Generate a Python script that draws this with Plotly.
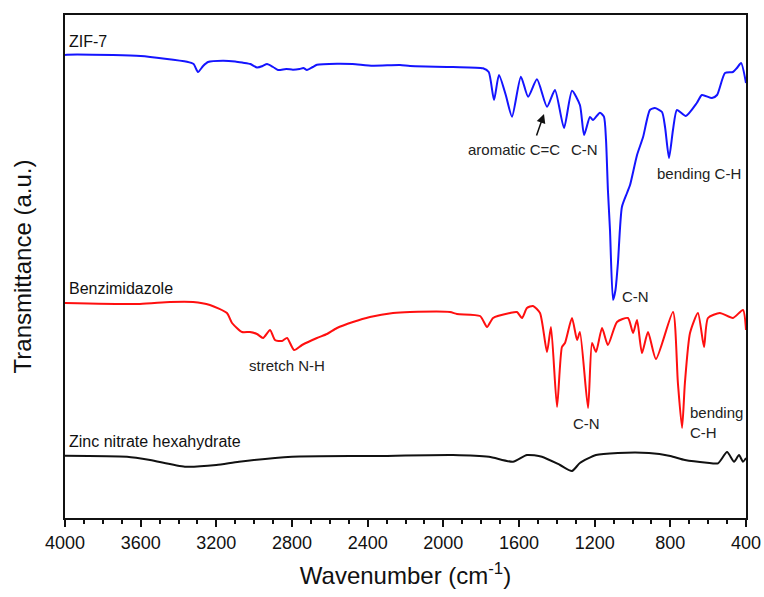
import plotly.graph_objects as go

# ZIF-7 (wavenumber cm-1, transmittance a.u., offset-stacked)
zif_wn = [4000, 3990, 3746, 3600, 3355, 3320, 3297, 3270, 3244, 3165, 3100, 3059, 3020, 2985, 2955, 2932, 2900,
          2874, 2830, 2795, 2760, 2740, 2721, 2690, 2668, 2562, 2480, 2372, 2229, 2176, 1950, 1790, 1760, 1732,
          1706, 1670, 1637, 1590, 1552, 1505, 1452, 1410, 1362, 1320, 1278, 1256, 1225, 1209, 1172, 1151, 1140,
          1130, 1119, 1103, 1090, 1077, 1056, 1029, 1013, 976, 944, 908, 882, 844, 828, 807, 786, 765, 718, 660,
          633, 580, 553, 511, 469, 448, 426, 400]
zif_t = [463, 463.3, 463, 462, 456.3, 454, 446, 452, 456, 457.3, 456.5, 455.3, 454, 450.5, 452, 454, 451,
         448, 449, 448.3, 449, 450, 448, 451, 453.3, 454.3, 454, 452.3, 453, 452, 451, 449.7, 446, 418,
         443, 423, 401.3, 441.3, 421.3, 438.7, 411.3, 428, 390, 427.3, 413, 383, 401, 398, 405.3, 401.3, 378,
         328, 288, 218, 228, 255, 311, 325, 333, 363, 381, 408, 410, 406, 391, 360, 388, 408, 402, 415,
         423, 420, 423, 445, 446, 450, 455, 435]

benz_wn = [4000, 3604, 3445, 3323, 3234, 3144, 3117, 3064, 3022, 2985, 2953, 2916, 2890, 2853, 2826, 2789, 2747,
           2668, 2615, 2562, 2478, 2388, 2266, 2176, 1965, 1928, 1806, 1769, 1737, 1648, 1611, 1584, 1558, 1526,
           1489, 1452, 1431, 1399, 1373, 1357, 1320, 1293, 1278, 1235, 1214, 1193, 1161, 1130, 1082, 1024, 997,
           976, 950, 918, 876, 786, 760, 738, 723, 696, 654, 622, 601, 538, 469, 416, 400]
benz_t = [215, 214, 216, 216, 213, 205, 195, 186, 186, 184, 180, 188, 178, 177, 180, 168, 173,
          180, 184, 190, 196, 201, 205, 206, 206, 204, 202, 191, 200, 205, 206, 200, 210, 212,
          205, 166, 191, 111, 171, 175, 200, 178, 186, 110, 175, 166, 190, 173, 196, 200, 185,
          198, 165, 186, 159, 206, 135, 90, 135, 185, 205, 171, 200, 205, 200, 208, 188]

zinc_wn = [4000, 3672, 3550, 3366, 3200, 3080, 2800, 2377, 1949, 1759, 1632, 1558, 1479, 1383, 1320, 1278, 1193,
           1077, 913, 800, 723, 606, 548, 500, 463, 437, 416, 400]
zinc_t = [62.3, 61.3, 58, 51.3, 53, 56.3, 61.3, 62, 63, 61.3, 56.3, 63, 61.3, 53, 47, 55, 63,
          65, 65, 62, 58, 55.3, 54.7, 66, 56.3, 63, 56.3, 60]

x_ticks = [4000, 3600, 3200, 2800, 2400, 2000, 1600, 1200, 800, 400]

FONT = "Liberation Sans, Arial, sans-serif"

fig = go.Figure()
line_common = dict(width=2, shape="spline", smoothing=0.6)
fig.add_trace(go.Scatter(x=zif_wn, y=zif_t, mode="lines", line=dict(color="#1414ff", **line_common), name="ZIF-7"))
fig.add_trace(go.Scatter(x=benz_wn, y=benz_t, mode="lines", line=dict(color="#ff0f0f", **line_common), name="Benzimidazole"))
fig.add_trace(go.Scatter(x=zinc_wn, y=zinc_t, mode="lines", line=dict(color="#111111", **line_common), name="Zinc nitrate hexahydrate"))

ann_font = dict(family=FONT, size=15, color="#222222")
lab_font = dict(family=FONT, size=16, color="#111111")
annotations = [
    dict(x=3990, y=477, text="ZIF-7", xanchor="left", yanchor="middle", font=lab_font),
    dict(x=3990, y=230, text="Benzimidazole", xanchor="left", yanchor="middle", font=lab_font),
    dict(x=3990, y=77, text="Zinc nitrate hexahydrate", xanchor="left", yanchor="middle", font=lab_font),
    dict(x=1624, y=369, text="aromatic C=C", xanchor="center", yanchor="middle", font=ann_font),
    dict(x=1254, y=369, text="C-N", xanchor="center", yanchor="middle", font=ann_font),
    dict(x=651, y=345, text="bending C-H", xanchor="center", yanchor="middle", font=ann_font),
    dict(x=984, y=222, text="C-N", xanchor="center", yanchor="middle", font=ann_font),
    dict(x=2829, y=153, text="stretch N-H", xanchor="center", yanchor="middle", font=ann_font),
    dict(x=1243, y=95, text="C-N", xanchor="center", yanchor="middle", font=ann_font),
    dict(x=707, y=96, text="bending<br>C-H", xanchor="left", yanchor="middle", align="left", font=ann_font),
    dict(x=1468, y=404, ax=1510, ay=381, axref="x", ayref="y", xref="x", yref="y", text="",
         showarrow=True, arrowhead=2, arrowsize=1.2, arrowwidth=1.5, arrowcolor="#111111"),
]
for a in annotations:
    a.setdefault("showarrow", False)
    a.setdefault("xref", "x")
    a.setdefault("yref", "y")

fig.update_layout(
    width=764, height=597,
    margin=dict(l=65, r=18, t=15, b=79),
    paper_bgcolor="white", plot_bgcolor="white",
    showlegend=False,
    annotations=annotations,
    xaxis=dict(
        range=[4000, 400], tickvals=x_ticks, ticktext=[str(v) for v in x_ticks],
        ticks="outside", ticklen=7, tickwidth=1.5, tickcolor="#111111",
        minor=dict(dtick=100, tick0=400, ticks="outside", ticklen=4, tickwidth=1.5, tickcolor="#111111"),
        showline=True, linecolor="#111111", linewidth=2, mirror=True, showgrid=False, zeroline=False,
        automargin=False,
        tickfont=dict(family=FONT, size=18, color="#111111"),
        title=dict(text="Wavenumber (cm<sup>-1</sup>)", font=dict(family=FONT, size=24, color="#111111"), standoff=16),
    ),
    yaxis=dict(
        range=[0, 503], showticklabels=False, ticks="", showgrid=False, zeroline=False,
        showline=True, linecolor="#111111", linewidth=2, mirror=True, automargin=False,
        title=dict(text="Transmittance (a.u.)", font=dict(family=FONT, size=24, color="#111111"), standoff=25),
    ),
)

fig.write_html("out.html")
